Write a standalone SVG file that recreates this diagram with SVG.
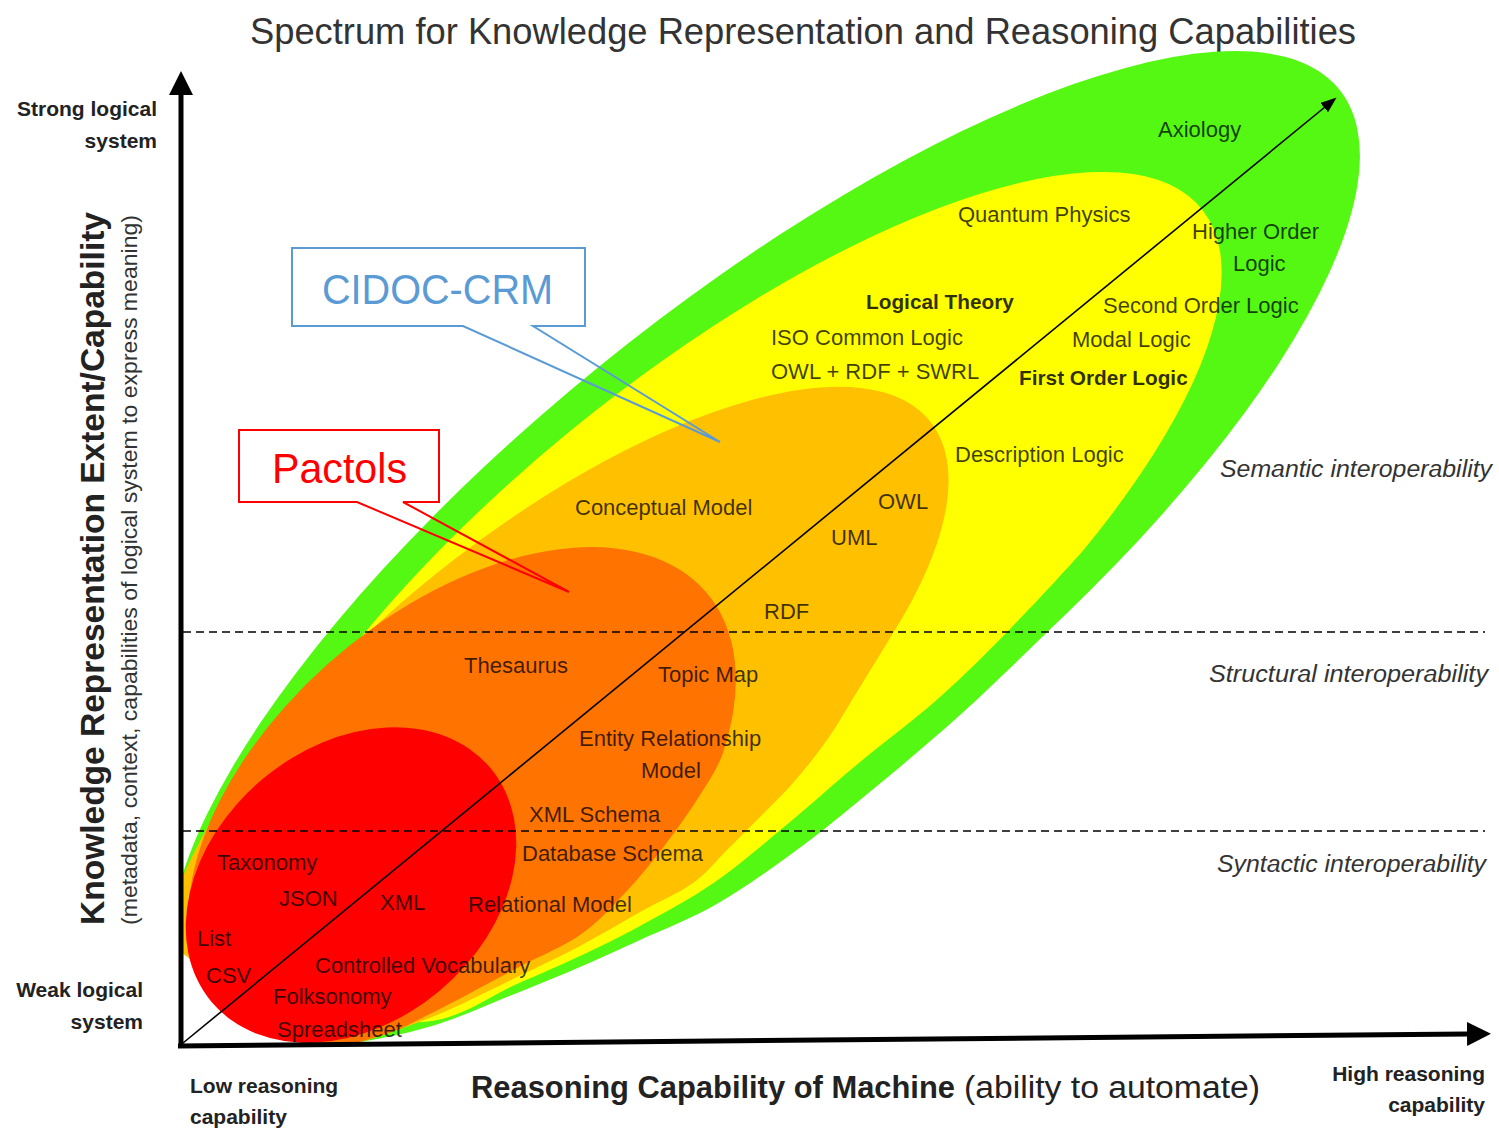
<svg xmlns="http://www.w3.org/2000/svg" width="1499" height="1131" viewBox="0 0 1499 1131">
<style>
text{font-family:"Liberation Sans",Arial,sans-serif}
.title{font-size:36px;fill:#333}
.lbl{font-size:22px;fill:#000;fill-opacity:0.75}
.lblb{font-size:20.8px;font-weight:bold;fill:#000;fill-opacity:0.82}
.end{font-size:21px;font-weight:bold;fill:#222}
.interop{font-size:24.4px;font-style:italic;fill:#333}
.ax{stroke:#000;stroke-width:5;fill:none}
.dash{stroke:#000;stroke-width:1.6;stroke-dasharray:8 5;fill:none}
</style>
<defs>
<clipPath id="plot"><polygon points="181,0 1501,0 1501,1045 304,1045 181,952"/></clipPath>
<clipPath id="plotR"><rect x="181" y="0" width="1320" height="1045"/></clipPath>
<marker id="axHead" markerUnits="userSpaceOnUse" markerWidth="24" markerHeight="24" viewBox="0 0 24 24" refX="1" refY="12" orient="auto"><path d="M0,0 L24,12 L0,24 Z" fill="#000"/></marker>
<marker id="diagHead" markerUnits="userSpaceOnUse" markerWidth="16" markerHeight="12" viewBox="0 0 16 12" refX="1" refY="6" orient="auto"><path d="M0,0 L16,6 L0,12 Z" fill="#000"/></marker>
</defs>
<rect width="1499" height="1131" fill="#fff"/>
<text class="title" x="250" y="44" textLength="1106" lengthAdjust="spacingAndGlyphs">Spectrum for Knowledge Representation and Reasoning Capabilities</text>
<g clip-path="url(#plot)">
<g id="region-green"><path fill="#55F812" d="M344,1045 C373.2,1039.7 403.2,1034.7 432,1026 C460.8,1017.3 492.3,1002.8 517,993 C541.7,983.2 559.5,975.8 580,967 C600.5,958.2 617.5,950.3 640,940 C662.5,929.7 690,919.2 715,905 C740,890.8 765.8,872.5 790,855 C814.2,837.5 831.7,823.3 860,800 C888.3,776.7 926.2,745.5 960,715 C993.8,684.5 1033.8,644.8 1063,617 A736,247 -38.7 1 0 344,1045 Z"/></g>
<g id="region-yellow"><path fill="#FFFF00" d="M319,1013 C352.7,1016 399,1025.8 432,1021 C465,1016.2 492.3,994.8 517,984 C541.7,973.2 559.5,965.7 580,956 C600.5,946.3 617.5,938.3 640,926 C662.5,913.7 690,899.3 715,882 C740,864.7 765.8,842 790,822 C814.2,802 835,782.8 860,762 C885,741.2 914.7,719.5 940,697 C965.3,674.5 988.3,651.3 1012,627 C1035.75,602.7 1064.4,571.6 1082.5,551.3 A614,222 -38.7 1 0 319,1013 Z"/></g>
<g id="region-lightorange"><path fill="#FFC000" d="M344,1047 C373.3,1038.5 403.2,1028.7 432,1017 C460.8,1005.3 492.3,988.8 517,977 C541.7,965.2 559.5,956.8 580,946 C600.5,935.2 621.2,922.5 640,912 C658.8,901.5 678.5,893.3 693,883 C707.5,872.7 715.8,861 727,850 C738.2,839 749,828.2 760,817 C771,805.8 781.8,795.8 793,783 C804.2,770.2 815.8,756 827,740 C838.2,724 847.2,707.9 860,687 C872.9,666.1 891.8,635.5 904.1,614.8 A480,190 -38.7 1 0 344,1047 Z"/></g>
<g id="region-orange"><path fill="#FF7300" d="M310.8,1050 C333.9,1048.8 359.8,1042.2 380,1036 C400.2,1029.8 409.2,1024.3 432,1013 C454.8,1001.7 492.3,981 517,968 C541.7,955 562,947.5 580,935 C598,922.5 610.8,908 625,893 C639.2,878 652.5,861.3 665,845 C677.5,828.7 690.6,809.8 700,795 C709.5,780.2 714.8,772.3 721.7,756.4 A320,190 -40 1 0 310.8,1050 Z"/></g>
</g>
<g clip-path="url(#plotR)">
<g id="region-red"><ellipse cx="351" cy="885" rx="182" ry="138" transform="rotate(-40 351 885)" fill="#FF0000"/></g>
</g>
<g id="connectors">
<line class="dash" x1="183" y1="632" x2="1485" y2="632"/>
<line class="dash" x1="183" y1="831" x2="1485" y2="831"/>
<line x1="183" y1="1043" x2="1325" y2="107" stroke="#000" stroke-width="1.6" marker-end="url(#diagHead)"/>
<line class="ax" x1="181" y1="1048" x2="181" y2="94" marker-end="url(#axHead)"/>
<line class="ax" x1="178" y1="1046" x2="1468" y2="1034" marker-end="url(#axHead)"/>
</g>
<g id="axis-labels">
<text class="end" x="157" y="116" text-anchor="end">Strong logical</text>
<text class="end" x="157" y="148" text-anchor="end">system</text>
<text class="end" x="143" y="997" text-anchor="end">Weak logical</text>
<text class="end" x="143" y="1029" text-anchor="end">system</text>
<text class="end" x="190" y="1093">Low reasoning</text>
<text class="end" x="190" y="1124">capability</text>
<text class="end" x="1485" y="1081" text-anchor="end">High reasoning</text>
<text class="end" x="1485" y="1112" text-anchor="end">capability</text>
<text x="471" y="1098" font-size="31" font-weight="bold" fill="#222" textLength="484" lengthAdjust="spacingAndGlyphs">Reasoning Capability of Machine</text>
<text x="964" y="1098" font-size="31" fill="#222" textLength="296" lengthAdjust="spacingAndGlyphs">(ability to automate)</text>
<text transform="translate(104 925) rotate(-90)" font-size="33" font-weight="bold" fill="#222" textLength="713" lengthAdjust="spacingAndGlyphs">Knowledge Representation Extent/Capability</text>
<text transform="translate(137 925) rotate(-90)" font-size="22" fill="#333" textLength="710" lengthAdjust="spacingAndGlyphs">(metadata, context, capabilities of logical system to express meaning)</text>
<text class="interop" x="1220" y="477" textLength="272" lengthAdjust="spacingAndGlyphs">Semantic interoperability</text>
<text class="interop" x="1209" y="682" textLength="279" lengthAdjust="spacingAndGlyphs">Structural interoperability</text>
<text class="interop" x="1217" y="872" textLength="269" lengthAdjust="spacingAndGlyphs">Syntactic interoperability</text>
</g>
<g id="labels">
<text class="lbl" x="1158" y="137">Axiology</text>
<text class="lbl" x="958" y="222">Quantum Physics</text>
<text class="lbl" x="1192" y="239">Higher Order</text>
<text class="lbl" x="1233" y="271">Logic</text>
<text class="lblb" x="866" y="309">Logical Theory</text>
<text class="lbl" x="1103" y="313">Second Order Logic</text>
<text class="lbl" x="771" y="345">ISO Common Logic</text>
<text class="lbl" x="1072" y="347">Modal Logic</text>
<text class="lbl" x="771" y="379">OWL + RDF + SWRL</text>
<text class="lblb" x="1019" y="385">First Order Logic</text>
<text class="lbl" x="955" y="462">Description Logic</text>
<text class="lbl" x="878" y="509">OWL</text>
<text class="lbl" x="575" y="515">Conceptual Model</text>
<text class="lbl" x="831" y="545">UML</text>
<text class="lbl" x="764" y="619">RDF</text>
<text class="lbl" x="464" y="673">Thesaurus</text>
<text class="lbl" x="658" y="682">Topic Map</text>
<text class="lbl" x="579" y="746">Entity Relationship</text>
<text class="lbl" x="641" y="778">Model</text>
<text class="lbl" x="529" y="822">XML Schema</text>
<text class="lbl" x="522" y="861">Database Schema</text>
<text class="lbl" x="217" y="870">Taxonomy</text>
<text class="lbl" x="279" y="906">JSON</text>
<text class="lbl" x="380" y="910">XML</text>
<text class="lbl" x="468" y="912">Relational Model</text>
<text class="lbl" x="197" y="946">List</text>
<text class="lbl" x="315" y="973">Controlled Vocabulary</text>
<text class="lbl" x="206" y="983">CSV</text>
<text class="lbl" x="273" y="1004">Folksonomy</text>
<text class="lbl" x="277" y="1037">Spreadsheet</text>
</g>
<g id="callout-cidoc">
<path d="M292,248 H585 V326 H533 L720,442 L463,326 H292 Z" fill="none" stroke="#5B9BD5" stroke-width="2"/>
<text x="322" y="304" font-size="42" fill="#5B9BD5" textLength="231" lengthAdjust="spacingAndGlyphs">CIDOC-CRM</text>
</g>
<g id="callout-pactols">
<path d="M239,430 H439 V502 H403 L569,592 L357,502 H239 Z" fill="none" stroke="#FF0000" stroke-width="2"/>
<text x="272" y="483" font-size="42" fill="#FF0000" textLength="135" lengthAdjust="spacingAndGlyphs">Pactols</text>
</g>
</svg>
